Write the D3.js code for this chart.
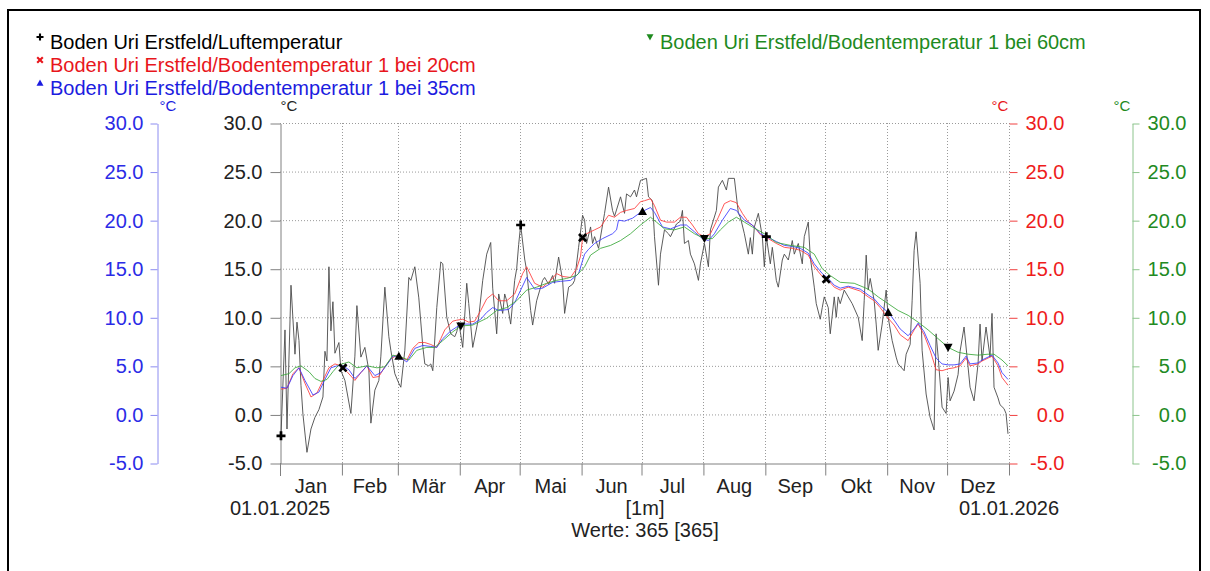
<!DOCTYPE html>
<html><head><meta charset="utf-8">
<script src="https://cdn.jsdelivr.net/npm/d3@7"></script>
<style>
body{margin:0;background:#fff}
svg{display:block}
text{font-family:"Liberation Sans",Arial,sans-serif}
</style>
</head><body>
<svg id="chart" width="1210" height="571"></svg>
<script>
// ---------- data ----------
const monthLabels = ["Jan","Feb","Mär","Apr","Mai","Jun","Jul","Aug","Sep","Okt","Nov","Dez"];
const yTicks = [-5,0,5,10,15,20,25,30];
const startLabel = "01.01.2025";
const endLabel = "01.01.2026";
const intervalLabel = "[1m]";
const countLabel = "Werte: 365 [365]";
const seriesNames = [
  "Boden Uri Erstfeld/Luftemperatur",
  "Boden Uri Erstfeld/Bodentemperatur 1 bei 20cm",
  "Boden Uri Erstfeld/Bodentemperatur 1 bei 35cm",
  "Boden Uri Erstfeld/Bodentemperatur 1 bei 60cm"
];
// [day of year (0 = 01.01.2025), °C]
const luft = [[0,-2.2],[2,8.7],[3,-1.5],[5,13.3],[7,6.2],[8,9.5],[9,7.6],[10,3],[11,0],[13,-3.9],[15,-1.5],[17,-0.3],[19,0.5],[21,1.8],[22,6.5],[23,5.5],[24,15.2],[25,8.6],[26,11.6],[27,6.3],[29,7.4],[30,4.5],[32,3.5],[35,0.1],[37,6],[38,11.2],[40,5.9],[42,6.9],[44,4.5],[45,-0.9],[47,2.5],[49,3.5],[50,6],[52,13.1],[54,8],[55,6.6],[57,4.2],[59,3.2],[60,2.8],[62,6.6],[64,14.1],[65,13.8],[67,15.2],[69,12],[71,7],[72,5.2],[74,5.0],[75,5.2],[76,4.5],[78,11],[80,15.7],[81,15.5],[83,10],[85,8.3],[87,8],[88,8.5],[89,9.5],[91,6.9],[93,13.5],[94,11.4],[96,6.9],[99,10],[101,13.8],[103,16.5],[105,17.7],[106,13],[108,8.3],[109,12.4],[111,10.4],[112,12.4],[113,11.7],[115,9.3],[117,13.8],[118,15.0],[119,17.5],[120,19.5],[122,16],[123,14.8],[125,10.7],[126,9.2],[128,11.7],[131,13.8],[132,14.1],[134,13.4],[136,14.3],[137,13.5],[139,16.2],[141,13.8],[142,10.4],[144,13.1],[146,13.4],[147,13.8],[149,17.2],[151,20.5],[152,20],[153,17.6],[155,19.3],[156,17.6],[157,18.3],[159,17.1],[162,20.7],[164,23.4],[166,21],[167,20.4],[170,22.4],[172,20.7],[173,22.7],[175,22.4],[177,23.1],[178,22.4],[180,24.1],[183,24.3],[184,22.4],[186,22.0],[187,18.3],[189,13.3],[190,16.5],[192,19],[194,18.6],[195,18.3],[198,19.6],[200,19.9],[201,21],[202,17.6],[204,17.9],[205,16.5],[207,15.5],[209,13.8],[210,15.5],[212,17.6],[214,15.2],[215,19],[218,21],[219,23.4],[221,24.1],[223,23.1],[224,24.3],[227,24.3],[229,20.7],[230,20.3],[232,18.6],[234,16.5],[235,18.2],[236,16.5],[237,19.3],[239,20.7],[241,18.3],[242,15.2],[243,18.3],[245,15.5],[246,17.2],[248,13.8],[249,13.1],[251,15.9],[252,16.5],[254,15.9],[256,17.9],[257,16.5],[259,17.6],[261,15.5],[262,18.3],[264,19.8],[265,16.2],[267,13.1],[268,11.4],[270,9.8],[271,11],[272,12.1],[274,11],[275,8.3],[277,12.1],[278,10],[279,12.1],[280,11.4],[282,12.8],[284,12.1],[286,11.4],[289,10],[291,7.6],[292,11.7],[293,16.4],[294,12.8],[295,14],[297,11.7],[298,9.3],[299,6.6],[301,9.3],[303,12.8],[304,10],[306,7.6],[308,5.9],[309,5.2],[312,4.5],[313,6.2],[315,7.2],[316,11.7],[317,16.9],[318,18.8],[320,13.5],[321,6.6],[323,2.1],[325,-0.3],[327,-1.6],[328,8.3],[329,6],[331,0.75],[333,0.1],[334,3.8],[335,1.4],[337,2.4],[339,4.1],[340,6.5],[342,9.0],[344,4.9],[345,2.8],[347,1.4],[349,5.2],[350,9.3],[351,5.5],[353,9.0],[355,5.9],[356,10.4],[357,2.8],[359,1.7],[360,1.0],[362,0.6],[363,0.1],[364,-2.0]];
const boden20 = [[0,2.6],[3,2.7],[6,4.2],[9,4.8],[12,3.2],[15,1.8],[18,2.2],[21,3.5],[24,4.8],[27,5.2],[30,5.0],[33,4.4],[37,3.5],[40,4.3],[43,5.0],[46,3.8],[49,3.9],[52,4.9],[55,5.7],[58,6.1],[63,5.6],[66,6.8],[69,7.4],[72,7.4],[75,7.2],[78,6.9],[80,7.8],[82,8.7],[86,9.6],[88,9.7],[91,9.8],[94,9.5],[97,9.6],[100,10.7],[103,11.9],[106,12.4],[109,11.7],[113,11.7],[117,12.4],[121,14.5],[123,15.2],[127,13.5],[131,13.1],[135,13.8],[138,14.5],[141,14.2],[145,14.1],[148,15.0],[150,16.3],[151,18.2],[153,18.6],[155,18.8],[157,19.0],[160,19.3],[164,20.5],[167,20.3],[170,20.8],[173,21.0],[177,21.2],[180,21.9],[182,22.0],[185,22.2],[187,21.5],[190,20.0],[193,19.8],[197,19.8],[200,20.3],[203,20.3],[206,19.5],[209,18.6],[212,18.3],[215,18.6],[219,20.3],[222,21.7],[225,22.0],[228,21.8],[231,20.7],[234,19.8],[237,19.3],[240,18.5],[244,18.1],[248,17.6],[252,17.2],[256,17.1],[260,16.9],[264,16.4],[267,15.2],[271,14.2],[274,13.8],[277,13.1],[280,12.8],[284,13.1],[290,12.7],[294,12.1],[297,11.7],[300,11.0],[304,9.9],[307,9.2],[310,8.2],[314,7.6],[317,8.7],[319,9.3],[322,8.2],[325,6.6],[328,4.6],[331,4.5],[334,4.7],[337,4.8],[340,5.0],[343,5.8],[345,5.0],[349,5.2],[351,5.5],[354,5.8],[356,6.0],[359,5.0],[361,3.8],[364,3.0]];
const boden35 = [[0,2.8],[3,2.7],[6,4.0],[9,4.8],[12,3.5],[16,2.0],[19,2.3],[22,3.6],[25,4.8],[28,5.0],[31,5.0],[34,4.6],[37,3.7],[40,4.3],[43,5.0],[47,4.0],[50,4.3],[53,5.1],[56,6.0],[59,6.0],[63,5.4],[67,6.8],[71,7.1],[75,7.0],[78,6.9],[81,7.8],[85,8.6],[88,9.0],[91,9.3],[96,9.3],[100,9.8],[103,10.5],[106,11.0],[109,10.7],[114,10.8],[117,11.5],[120,12.8],[123,14.1],[127,12.9],[131,13.0],[136,13.6],[140,13.7],[145,13.8],[149,14.5],[152,16.5],[154,17.0],[157,17.6],[161,18.1],[166,18.6],[168,19.0],[169,20.0],[172,19.9],[176,20.2],[180,20.8],[182,21.0],[185,21.3],[187,20.8],[191,19.3],[195,19.1],[200,19.5],[203,19.5],[207,18.8],[211,18.1],[214,17.9],[217,18.6],[221,20.0],[225,21.2],[228,21.0],[232,20.0],[236,19.5],[240,18.6],[244,18.2],[248,17.8],[252,17.4],[256,17.3],[260,17.1],[264,16.6],[267,15.5],[271,14.5],[274,14.0],[277,13.3],[280,13.0],[284,13.2],[290,12.9],[294,12.3],[297,11.9],[300,11.2],[304,10.5],[307,9.7],[310,8.8],[314,8.1],[317,8.8],[319,9.4],[322,8.5],[325,7.1],[328,5.8],[331,5.2],[334,5.1],[337,5.1],[340,5.2],[343,6.0],[345,5.2],[349,5.3],[351,5.6],[354,5.9],[356,6.1],[359,5.3],[361,4.3],[364,3.6]];
const boden60 = [[0,4.0],[4,4.2],[7,4.8],[10,5.0],[14,4.4],[17,3.7],[20,3.4],[23,3.6],[26,4.4],[29,5.1],[34,5.4],[38,4.8],[43,5.0],[48,4.8],[52,4.9],[56,6.1],[60,5.9],[64,5.6],[68,6.6],[73,6.9],[77,6.9],[81,7.6],[86,8.5],[90,9.1],[96,9.2],[103,9.9],[108,10.7],[113,11.0],[118,11.7],[123,12.8],[128,13.1],[133,13.5],[138,13.8],[143,14.0],[148,14.3],[152,15.2],[155,16.4],[160,17.1],[165,17.4],[170,17.9],[175,18.6],[180,19.5],[185,20.3],[188,19.8],[192,19.1],[197,19.0],[202,19.3],[207,18.6],[212,18.1],[216,18.1],[220,19.0],[224,19.8],[228,20.3],[232,19.8],[236,19.3],[242,18.6],[248,17.7],[255,17.4],[262,17.2],[267,16.5],[271,15.0],[275,14.3],[280,13.6],[287,13.5],[294,12.9],[299,12.1],[304,11.4],[309,10.7],[314,10.2],[319,9.5],[324,8.7],[329,7.8],[334,6.9],[339,6.4],[344,6.2],[349,6.1],[354,6.2],[357,6.2],[361,5.6],[364,5.0]];
const seriesColors = ["#000000","#e8161c","#1c1ce0","#1e8a1e"];
const lineColors = ["#4a4a4a","#ff3a3a","#3a3aff","#3aa83a"];

// ---------- setup ----------
const svg = d3.select("#chart");
const t0 = Date.UTC(2025,0,1);
const dateOf = d => new Date(t0 + d*864e5);
const x = d3.scaleUtc().domain([dateOf(0), dateOf(365)]).range([280,1009]);
const mkY = () => d3.scaleLinear().domain([-5,30]).range([463,123]);
const yBlack = mkY(), yBlue = mkY(), yRed = mkY(), yGreen = mkY();
const months = d3.utcMonth.range(dateOf(0), dateOf(366));
const fmt = d => d.toFixed(1);

// frame
svg.append("rect").attr("x",8).attr("y",10).attr("width",1192).attr("height",600)
  .attr("fill","none").attr("stroke","#000").attr("stroke-width",2);

// grid
const grid = svg.append("g").attr("stroke","#9a9a9a").attr("stroke-dasharray","1,2").attr("stroke-width",1);
grid.selectAll(".h").data(yTicks.filter(v => v > -5)).join("line")
  .attr("x1",280).attr("x2",1009).attr("y1",d=>yBlack(d)+0.5).attr("y2",d=>yBlack(d)+0.5);
grid.selectAll(".v").data(months.slice(1)).join("line")
  .attr("x1",d=>Math.round(x(d))+0.5).attr("x2",d=>Math.round(x(d))+0.5).attr("y1",123).attr("y2",463);

// x axis
const xAxis = svg.append("g").attr("transform","translate(0,463.5)")
  .call(d3.axisBottom(x).tickValues(months).tickSize(12).tickFormat("").tickSizeOuter(0));
xAxis.select(".domain").attr("stroke","#808080");
xAxis.selectAll(".tick line").attr("stroke","#808080");
svg.append("g").selectAll("text").data(months.slice(0,12)).join("text")
  .attr("x",(d,i)=> (x(months[i])+x(months[i+1]))/2).attr("y",493)
  .attr("text-anchor","middle").attr("font-size",20).attr("fill","#222")
  .text((d,i)=>monthLabels[i]);
svg.append("text").attr("x",x(dateOf(0))).attr("y",515).attr("text-anchor","middle")
  .attr("font-size",20).attr("fill","#222").text(startLabel);
svg.append("text").attr("x",x(dateOf(365))).attr("y",515).attr("text-anchor","middle")
  .attr("font-size",20).attr("fill","#222").text(endLabel);
svg.append("text").attr("x",645).attr("y",515).attr("text-anchor","middle")
  .attr("font-size",20).attr("fill","#222").text(intervalLabel);
svg.append("text").attr("x",645).attr("y",537).attr("text-anchor","middle")
  .attr("font-size",20).attr("fill","#222").text(countLabel);

// y axes
function styleAxis(g, lineCol, textCol, showDomain){
  g.select(".domain").attr("stroke", showDomain ? lineCol : "none");
  g.selectAll(".tick line").attr("stroke", lineCol);
  g.selectAll(".tick text").attr("fill", textCol).attr("font-size",20)
    .attr("font-family",'"Liberation Sans",Arial,sans-serif');
}
const gBlack = svg.append("g").attr("transform","translate(280.5,0.5)")
  .call(d3.axisLeft(yBlack).tickValues(yTicks).tickFormat(fmt).tickSize(10).tickPadding(8).tickSizeOuter(0));
styleAxis(gBlack,"#808080","#222",true);
svg.append("line").attr("x1",280.5).attr("x2",280.5).attr("y1",463).attr("y2",476).attr("stroke","#808080");
const gBlue = svg.append("g").attr("transform","translate(157.5,0.5)")
  .call(d3.axisLeft(yBlue).tickValues(yTicks).tickFormat(fmt).tickSize(7).tickPadding(7).tickSizeOuter(0));
styleAxis(gBlue,"#8c8cf0","#2b2be6",true);
const gRed = svg.append("g").attr("transform","translate(1009.5,0.5)")
  .call(d3.axisRight(yRed).tickValues(yTicks).tickFormat(fmt).tickSize(8).tickSizeOuter(0));
styleAxis(gRed,"#f04040","#ee1c1c",false);
gRed.selectAll(".tick text").attr("text-anchor","end").attr("x",55);
const gGreen = svg.append("g").attr("transform","translate(1132.5,0.5)")
  .call(d3.axisRight(yGreen).tickValues(yTicks).tickFormat(fmt).tickSize(7).tickSizeOuter(0));
styleAxis(gGreen,"#8cc48c","#228a22",true);
gGreen.selectAll(".tick text").attr("text-anchor","end").attr("x",54);

// unit labels
const units = [[168,seriesColors[2]],[289,"#222"],[1000,seriesColors[1]],[1122,seriesColors[3]]];
svg.append("g").selectAll("text").data(units).join("text")
  .attr("x",d=>d[0]).attr("y",111).attr("text-anchor","middle").attr("font-size",15)
  .attr("fill",d=>d[1]).text("°C");

// lines
const series = [luft, boden20, boden35, boden60];
const scalesY = [yBlack, yRed, yBlue, yGreen];
const plot = svg.append("g");
[0,1,2,3].forEach(i => {
  const line = d3.line().x(d => x(dateOf(d[0]+0.5))).y(d => scalesY[i](d[1]));
  plot.append("path").datum(series[i]).attr("d",line).attr("fill","none")
    .attr("stroke",lineColors[i]).attr("stroke-width",1).attr("stroke-opacity", i===0?0.9:0.85);
});

// markers
function valueAt(arr, d){
  for(let k=0;k<arr.length-1;k++){
    if(d>=arr[k][0] && d<=arr[k+1][0]){
      const t=(d-arr[k][0])/(arr[k+1][0]-arr[k][0]);
      return arr[k][1]+t*(arr[k+1][1]-arr[k][1]);
    }
  }
  return arr[arr.length-1][1];
}
function drawMarker(g, type, cx, cy, s, col){
  if(type===0){
    g.append("path").attr("d",`M${cx-s},${cy}H${cx+s}M${cx},${cy-s}V${cy+s}`)
      .attr("stroke",col).attr("stroke-width",s*0.6).attr("fill","none");
  } else if(type===1){
    g.append("path").attr("d",`M${cx-s*0.8},${cy-s*0.8}L${cx+s*0.8},${cy+s*0.8}M${cx-s*0.8},${cy+s*0.8}L${cx+s*0.8},${cy-s*0.8}`)
      .attr("stroke",col).attr("stroke-width",s*0.6).attr("fill","none");
  } else if(type===2){
    g.append("path").attr("d",`M${cx},${cy-s}L${cx+s},${cy+s*0.8}L${cx-s},${cy+s*0.8}Z`).attr("fill",col);
  } else {
    g.append("path").attr("d",`M${cx},${cy+s}L${cx+s},${cy-s*0.8}L${cx-s},${cy-s*0.8}Z`).attr("fill",col);
  }
}
const mg = svg.append("g");
months.slice(0,12).forEach((m,i) => {
  const k = i % 4;
  const day = Math.round((m - dateOf(0))/864e5);
  const v = valueAt(series[k], day);
  drawMarker(mg, k, x(dateOf(day+0.5)), scalesY[k](v), 4.5, "#000");
});

// legend
const leg = svg.append("g");
const legPos = [[50,49],[50,72],[50,95],[660,49]];
seriesNames.forEach((n,i) => {
  leg.append("text").attr("x",legPos[i][0]).attr("y",legPos[i][1]).attr("font-size",20)
    .attr("fill",seriesColors[i]).text(n);
  drawMarker(leg, i, legPos[i][0]-10, legPos[i][1]-12, 3.5, seriesColors[i]);
});
</script>
</body></html>
